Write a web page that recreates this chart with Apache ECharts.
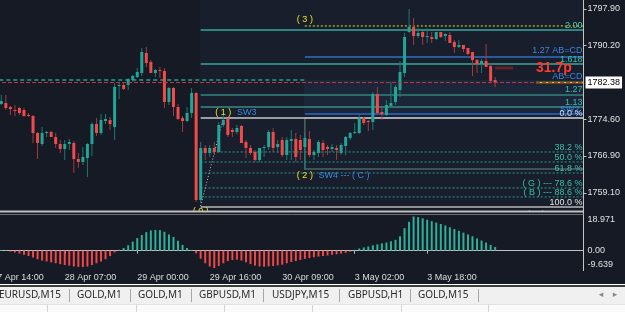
<!DOCTYPE html>
<html><head><meta charset="utf-8">
<script src="https://cdn.jsdelivr.net/npm/echarts@6/dist/echarts.min.js"></script>
<style>html,body{margin:0;padding:0;background:#151a25;overflow:hidden}#c{width:625px;height:312px}</style>
</head><body><div id="c"></div><script>
// ---------- data ----------
const barCount = 131;
const timeLabelBars = [0,16,32,48,64,80,96];
const timeLabels = ['27 Apr 14:00','28 Apr 07:00','29 Apr 00:00','29 Apr 16:00','30 Apr 09:00','3 May 02:00','3 May 18:00'];
const priceTicks = [1797.90,1790.20,1774.60,1766.90,1759.10];
const lastPrice = 1782.38;
const oscTicks = [18.971,0,-9.639];

const opens = [1777.87,1778.29,1777.87,1778.08,1777.24,1776.60,1777.02,1776.60,1775.55,1775.34,
1771.75,1769.43,1771.75,1771.96,1770.91,1769.43,1768.38,1769.43,1769.64,1766.27,
1765.64,1766.48,1769.43,1773.65,1771.75,1774.28,1774.49,1773.02,1781.66,1781.88,
1781.88,1782.93,1783.56,1784.41,1788.62,1786.73,1784.41,1785.04,1784.83,1778.29,
1781.24,1777.24,1774.92,1774.28,1775.97,1780.19,1757.62,1768.59,1767.54,1768.59,
1767.75,1773.44,1774.71,1772.39,1771.96,1773.23,1769.86,1768.59,1767.75,1766.06,
1768.59,1768.80,1771.96,1768.80,1770.28,1767.11,1770.07,1770.49,1770.28,1768.80,
1770.49,1767.11,1767.54,1769.64,1768.80,1768.38,1768.59,1767.54,1769.01,1770.70,
1771.75,1771.75,1774.92,1774.28,1774.07,1779.98,1776.18,1775.55,1777.45,1778.29,
1780.82,1784.41,1793.05,1794.11,1792.21,1793.05,1792.00,1792.00,1791.58,1793.05,
1792.21,1792.42,1790.94,1789.89,1790.31,1789.68,1788.83,1787.15,1786.30,1786.94,
1785.88,1782.93];
const closes = [1778.29,1777.87,1778.50,1777.02,1776.81,1776.50,1775.97,1775.34,1775.34,1771.75,
1769.64,1771.75,1771.96,1770.91,1769.43,1768.38,1769.43,1769.86,1766.27,1765.64,
1766.69,1769.43,1773.65,1771.75,1774.49,1774.71,1773.65,1781.45,1781.88,1781.03,
1783.14,1783.77,1784.62,1788.83,1786.51,1784.41,1785.04,1784.83,1778.29,1781.24,
1777.24,1774.71,1774.28,1775.97,1780.19,1757.62,1768.59,1767.54,1768.59,1767.75,
1773.44,1774.49,1771.33,1771.96,1772.81,1769.64,1768.59,1767.54,1766.06,1768.59,
1768.80,1771.96,1768.59,1769.43,1767.11,1770.28,1770.49,1766.69,1768.17,1770.70,
1767.11,1767.75,1769.86,1768.17,1768.38,1768.80,1768.17,1769.22,1770.91,1771.75,
1771.96,1774.92,1773.86,1774.07,1779.98,1775.97,1775.76,1777.66,1778.08,1781.45,
1784.62,1792.00,1794.11,1792.21,1792.84,1792.00,1792.21,1791.58,1793.05,1792.00,
1792.63,1790.73,1789.89,1790.31,1789.47,1788.41,1787.15,1786.30,1786.94,1785.67,
1782.72,1782.38];
const lows = [1777.02,1777.45,1777.66,1776.60,1775.55,1775.34,1775.55,1775.13,1775.13,1769.64,
1766.27,1769.01,1770.91,1770.91,1768.59,1767.54,1766.06,1768.17,1763.32,1764.37,
1765.00,1762.47,1766.90,1771.12,1771.33,1773.65,1772.39,1770.28,1778.92,1780.82,
1780.82,1782.51,1783.35,1783.77,1785.67,1784.41,1783.56,1783.35,1777.02,1777.66,
1775.34,1774.49,1771.96,1774.07,1774.92,1757.20,1756.99,1766.06,1766.69,1767.11,
1767.54,1773.02,1770.91,1770.91,1771.54,1769.64,1766.48,1767.11,1765.64,1765.64,
1766.69,1768.17,1767.75,1767.54,1766.69,1766.06,1766.06,1765.64,1766.06,1763.95,
1766.69,1766.06,1766.69,1766.69,1767.11,1767.75,1766.06,1767.11,1767.11,1770.28,
1771.54,1771.54,1773.44,1772.17,1772.39,1775.55,1774.49,1775.34,1777.24,1777.66,
1779.34,1783.56,1792.84,1790.31,1791.79,1790.31,1790.73,1790.73,1791.36,1791.79,
1791.15,1790.73,1788.62,1789.68,1788.83,1788.20,1783.77,1784.41,1784.41,1785.67,
1782.51,1781.45];
const highs = [1779.13,1778.92,1779.77,1779.77,1777.45,1777.66,1777.24,1777.02,1775.97,1775.55,
1771.96,1773.02,1772.17,1772.17,1771.75,1770.28,1770.28,1770.49,1770.07,1767.54,
1768.80,1769.64,1774.07,1774.92,1775.76,1775.76,1775.13,1782.30,1782.30,1782.30,
1783.35,1783.98,1785.46,1789.68,1789.89,1787.15,1785.25,1785.67,1785.46,1781.45,
1781.45,1777.87,1775.34,1777.24,1781.24,1780.40,1769.86,1769.22,1769.22,1769.86,
1774.07,1775.55,1774.92,1772.81,1773.44,1773.44,1770.28,1769.22,1768.17,1768.59,
1769.22,1772.39,1772.81,1770.28,1770.91,1770.91,1772.39,1771.75,1771.33,1771.75,
1772.17,1768.17,1770.28,1770.28,1769.22,1769.43,1769.22,1769.64,1771.12,1771.96,
1773.86,1775.55,1775.13,1774.49,1780.40,1781.45,1777.02,1778.71,1782.51,1781.88,
1786.94,1792.84,1797.90,1796.00,1793.90,1793.26,1793.90,1793.05,1793.05,1793.05,
1792.84,1793.05,1791.36,1791.36,1790.31,1789.68,1788.83,1787.36,1787.36,1790.52,
1786.51,1783.56];
const oscValues = [0.8,0.5,0.4,0.2,-0.5,-1.0,-1.6,-2.3,-3.0,-3.8,
-4.8,-5.5,-6.0,-6.5,-7.0,-7.5,-8.0,-8.3,-8.8,-9.0,
-9.1,-8.8,-8.0,-7.0,-6.0,-4.8,-3.0,-1.0,0.5,1.5,
3.0,5.0,7.0,8.7,10.3,11.2,11.5,11.4,10.5,9.0,
7.6,5.5,3.2,1.5,0.4,-1.5,-4.5,-7.0,-8.8,-9.639,
-8.5,-7.0,-5.8,-5.2,-5.0,-5.5,-6.5,-7.5,-8.3,-8.8,
-8.9,-8.7,-8.5,-8.2,-7.8,-7.0,-6.3,-5.8,-5.2,-4.6,
-4.1,-3.7,-3.3,-3.0,-2.7,-2.3,-2.0,-1.6,-1.2,-0.6,
0.5,1.2,1.8,2.3,3.0,3.5,4.0,4.5,5.2,6.0,
8.0,12.5,16.0,18.971,18.6,18.0,17.2,16.4,15.6,14.8,
14.0,13.0,12.0,11.0,10.0,9.0,8.0,6.8,5.6,4.5,3.2,2.0];

// chart objects (anchored at bar index + price)
const levelKeys   = ['ext200y','ext200','abcd127','ext1618','prevLevel','short317','ext127','ext113','sw2','fib0','fib382','fib500','fib618','fib786','fib886','fib100','askLine'];
const levelPrices = [1794.32,1793.47,1787.78,1786.30,1782.93,1785.46,1779.77,1777.24,1775.76,1774.92,1767.75,1765.64,1763.32,1760.16,1758.26,1756.15,1782.38];
const levelStartBars = [69,46,69,46,0,111,46,46,69,46,46,46,46,46,46,46,120];
const levelEndBars   = [null,null,null,null,69,115,null,null,null,null,null,null,null,null,null,null,null];
const levelLabels = ['','2.00','1.27 AB=CD','1.618','','','1.27','1.13','SW2','0.0 %','38.2 %','50.0 %','61.8 %','( G ) --- 78.6 %','( B ) --- 88.6 %','100.0 %','AB=CD'];

const rectKeys = ['fibZone','swZone','boxC'];
const rectStartBars = [46,69,69];
const rectTopPrices = [1799.80,1782.93,1774.92];
const rectBottomPrices = [1756.15,1775.76,1764.16];

const noteKeys = ['w3','w1','sw3','w2','sw4','w0','pips','cBottom','cVal'];
const noteTexts = ['( 3 )','( 1 )','SW3','( 2 )','SW4 --- ( C )','( 0 )','31.7p','( C )','1.13'];
const noteBars = [69,51,54,69,72,46,120,120,130];
const notePrices = [1795.58,1775.97,1775.97,1762.69,1762.69,1755.20,1785.46,1754.46,1754.46];

const tabLabels = ['EURUSD,M15','GOLD,M1','GOLD,M1','GBPUSD,M1','USDJPY,M15','GBPUSD,H1','GOLD,M15'];

// ---------- styles / layout ----------
const BG = '#151a25';
const FONT = 'Liberation Sans';
const UP = '#22a596', DN = '#ef4b4b', UPW = '#1b7a72', DNW = '#a53a40';
const TEAL = '#3cbfa8', BLUE = '#3a86e0', YEL = '#ece020';
const levelStyle = {
  ext200y:{stroke:YEL,w:1,dash:[2,2]},
  ext200:{stroke:'#35a99c',w:1.5,lc:'#58c8a8'},
  abcd127:{stroke:'#2f70c0',w:1.5,lc:BLUE,dy:6.5},
  ext1618:{stroke:'#35a99c',w:1.5,lc:TEAL,dy:4},
  prevLevel:{stroke:'#1d7f7a',w:2,dash:[4,3]},
  short317:{stroke:'#6a2026',w:3},
  ext127:{stroke:'#2c6b6c',w:2,lc:TEAL,dy:5.5},
  ext113:{stroke:'#3a8a88',w:1.5,lc:TEAL},
  sw2:{stroke:'#2a68cc',w:1.5,lc:BLUE,off:3,dy:4},
  fib0:{stroke:'#c8c8c8',w:1.5,lc:'#c8dcf0'},
  fib382:{stroke:'#2a9c8e',w:1,dash:[2,2],lc:TEAL},
  fib500:{stroke:'#2a9c8e',w:1,dash:[2,2],lc:TEAL},
  fib618:{stroke:'#2a9c8e',w:1,dash:[2,2],lc:TEAL},
  fib786:{stroke:'#2a9c8e',w:1,dash:[2,2],lc:TEAL},
  fib886:{stroke:'#2a9c8e',w:1,dash:[2,2],lc:TEAL},
  fib100:{stroke:'#b8b8b8',w:1.5,lc:'#e4e4e4'},
  askLine:{stroke:'#e0d000',w:1.5,lc:BLUE,dy:6}
};
const rectStyle = {
  fibZone:{fill:'#181e2c'},
  swZone:{fill:'#1c2639'},
  boxC:{fill:null,stroke:'#4e6468',w:1.5}
};
const noteStyle = {
  w3:{fill:YEL,align:'center'}, w1:{fill:YEL,align:'center'}, sw3:{fill:BLUE,align:'left'},
  w2:{fill:YEL,align:'center'}, sw4:{fill:BLUE,align:'left'}, w0:{fill:YEL,align:'center'},
  pips:{fill:'#ff3a30',align:'left',font:'bold 14px '+FONT},
  cBottom:{fill:TEAL,align:'center'}, cVal:{fill:TEAL,align:'right'}
};
const tabTextX = [-1,77,138,199,272,348,418];
const tabSepX = [69,130,191,263,339,410,478];
const lowSepX = [47,136,224,312,401,488];

const cats = Array.from({length:barCount},(_,i)=>String(i));
const showLabel = idx => timeLabelBars.indexOf(idx) >= 0;

const chart = echarts.init(document.getElementById('c'),null,{renderer:'canvas'});

const graphics = [
  {type:'line',shape:{x1:583.5,y1:0,x2:583.5,y2:271},style:{stroke:'#c4c4c4',lineWidth:1},z:50},
  {type:'line',shape:{x1:0,y1:211.5,x2:583.5,y2:211.5},style:{stroke:'#c0c0c0',lineWidth:2},z:50},
  {type:'line',shape:{x1:0,y1:214.5,x2:583.5,y2:214.5},style:{stroke:'#6e6e6e',lineWidth:1},z:50},
  {type:'rect',shape:{x:0,y:284,width:625,height:28},style:{fill:'#f0f0f0'},z:50},
  {type:'line',shape:{x1:0,y1:284.5,x2:625,y2:284.5},style:{stroke:'#ffffff',lineWidth:1},z:51},
  {type:'line',shape:{x1:0,y1:286,x2:625,y2:286},style:{stroke:'#000000',lineWidth:1.5},z:51},
  {type:'rect',shape:{x:0,y:304,width:625,height:8},style:{fill:'#fafafa'},z:51},
  {type:'line',shape:{x1:0,y1:304.5,x2:625,y2:304.5},style:{stroke:'#e2e2e2',lineWidth:1},z:52},
  {type:'text',x:601,y:295,style:{text:'◂',fill:'#8a8a8a',font:'9px DejaVu Sans',align:'center',verticalAlign:'middle'},z:52},
  {type:'text',x:615,y:295,style:{text:'▸',fill:'#8a8a8a',font:'9px DejaVu Sans',align:'center',verticalAlign:'middle'},z:52}
];
tabLabels.forEach((t,i)=>{
  graphics.push({type:'text',x:tabTextX[i],y:295.5,style:{text:t,fill:'#2a2a2a',font:'10px Noto Sans',align:'left',verticalAlign:'middle'},z:52});
});
tabSepX.forEach(x=>graphics.push({type:'line',shape:{x1:x+0.5,y1:289,x2:x+0.5,y2:302},style:{stroke:'#a8a8a8',lineWidth:1},z:52}));
lowSepX.forEach(x=>graphics.push({type:'line',shape:{x1:x+0.5,y1:305,x2:x+0.5,y2:312},style:{stroke:'#d4d4d4',lineWidth:1},z:52}));

const option = {
  animation:false,
  backgroundColor:BG,
  grid:[
    {left:-10,top:0,width:593.5,height:211,containLabel:false,outerBoundsMode:'none'},
    {left:-10,top:216.5,width:593.5,height:51.5,containLabel:false,outerBoundsMode:'none'}
  ],
  xAxis:[
    {type:'category',gridIndex:0,data:cats,boundaryGap:true,show:false},
    {type:'category',gridIndex:1,data:cats,boundaryGap:true,offset:2.5,
     axisLine:{show:true,lineStyle:{color:'#c0c0c0',width:1}},
     axisTick:{show:true,alignWithLabel:true,interval:showLabel,length:3,lineStyle:{color:'#c0c0c0'}},
     axisLabel:{interval:showLabel,align:'left',margin:3,color:'#dcdcdc',fontSize:9,fontFamily:FONT,hideOverlap:false,
       formatter:(v,idx)=>timeLabels[timeLabelBars.indexOf(idx)] || ''},
     splitLine:{show:false}}
  ],
  yAxis:[
    {type:'value',gridIndex:0,position:'right',min:1755.30,max:1799.80,
     axisLine:{show:false},splitLine:{show:false},
     axisTick:{show:true,customValues:priceTicks,length:3,lineStyle:{color:'#c4c4c4'}},
     axisLabel:{customValues:priceTicks,margin:4,color:'#e0e0e0',fontSize:9,fontFamily:FONT,formatter:v=>v.toFixed(2)}},
    {type:'value',gridIndex:1,position:'right',min:-9.639,max:18.971,
     axisLine:{show:false},splitLine:{show:false},
     axisTick:{show:false},
     axisLabel:{customValues:oscTicks,margin:4,color:'#e0e0e0',fontSize:9,fontFamily:FONT,
       formatter:v=> v>0 ? '{t|'+v.toFixed(3)+'}' : (v<0 ? '{b|'+v.toFixed(3)+'}' : '0.00'),
       rich:{t:{padding:[7,0,0,0],fontSize:9,fontFamily:FONT,color:'#e0e0e0'},
             b:{padding:[0,0,6,0],fontSize:9,fontFamily:FONT,color:'#e0e0e0'}}}}
  ],
  graphic:graphics,
  series:[
    { // background zones
      type:'custom',xAxisIndex:0,yAxisIndex:0,clip:true,z:1,silent:true,
      data:rectKeys.map((k,i)=>[rectStartBars[i],rectTopPrices[i],rectBottomPrices[i],i]),
      encode:{x:0,y:[1,2]},
      renderItem:(params,api)=>{
        const i=api.value(3), st=rectStyle[rectKeys[i]], cs=params.coordSys;
        const p1=api.coord([api.value(0),api.value(1)]), p2=api.coord([api.value(0),api.value(2)]);
        const x1=p1[0]+(st.fill?-1:0), xr=cs.x+cs.width;
        return {type:'rect',shape:{x:x1,y:p1[1],width:xr-x1+ (st.fill?0:2),height:p2[1]-p1[1]},
          style: st.fill ? {fill:st.fill} : {fill:null,stroke:st.stroke,lineWidth:st.w}};
      }
    },
    { // level lines
      type:'custom',xAxisIndex:0,yAxisIndex:0,clip:true,z:2,silent:true,
      data:levelKeys.map((k,i)=>[levelStartBars[i],levelPrices[i],i]),
      encode:{x:0,y:1},
      renderItem:(params,api)=>{
        const i=api.value(2), st=levelStyle[levelKeys[i]], cs=params.coordSys;
        const p=api.coord([api.value(0),api.value(1)]);
        const xEnd = levelEndBars[i]==null ? cs.x+cs.width : api.coord([levelEndBars[i],api.value(1)])[0];
        const kids=[{type:'line',shape:{x1:p[0],y1:p[1],x2:xEnd,y2:p[1]},
          style:{stroke:st.stroke,lineWidth:st.w,lineDash:st.dash||null}}];
        if(levelLabels[i]) kids.push({type:'text',x:cs.x+cs.width-1-(st.off||0),y:p[1]-(st.dy||4.5),z2:5,
          style:{text:levelLabels[i],fill:st.lc||TEAL,font:'9px '+FONT,align:'right',verticalAlign:'middle'}});
        return {type:'group',children:kids};
      }
    },
    { // diagonal wave line (0)->(1)
      type:'line',xAxisIndex:0,yAxisIndex:0,z:3,silent:true,symbol:'none',
      data:[[46,1756.36],[51,1774.92]],
      lineStyle:{color:'#c8c8c8',width:1,type:[1,2]}
    },
    { // candles
      type:'custom',name:'GOLD,H1',xAxisIndex:0,yAxisIndex:0,clip:true,z:4,
      data:opens.map((o,i)=>[i,o,closes[i],lows[i],highs[i]]),
      encode:{x:0,y:[1,2,3,4]},
      renderItem:(params,api)=>{
        const i=api.value(0),o=api.value(1),c=api.value(2),l=api.value(3),h=api.value(4);
        const po=api.coord([i,o]),pc=api.coord([i,c]),pl=api.coord([i,l]),ph=api.coord([i,h]);
        const up=c>=o, x=po[0];
        const top=Math.min(po[1],pc[1]), ht=Math.max(1,Math.abs(po[1]-pc[1]));
        return {type:'group',children:[
          {type:'line',shape:{x1:x,y1:ph[1],x2:x,y2:pl[1]},style:{stroke:up?UPW:DNW,lineWidth:1}},
          {type:'rect',shape:{x:x-1.5,y:top,width:3,height:ht},style:{fill:up?UP:DN}}
        ]};
      },
      markLine:{symbol:'none',silent:true,animation:false,
        data:[{yAxis:lastPrice}],
        lineStyle:{color:'#c8343a',type:[4,2],width:1},
        label:{position:'end',distance:2,formatter:()=>lastPrice.toFixed(2),backgroundColor:'#ffffff',
          color:'#000000',fontSize:9,fontFamily:FONT,padding:[2,2,1,2]}}
    },
    { // text notes
      type:'custom',xAxisIndex:0,yAxisIndex:0,clip:true,z:6,silent:true,
      data:noteKeys.map((k,i)=>[noteBars[i],notePrices[i],i]),
      encode:{x:0,y:1},
      renderItem:(params,api)=>{
        const i=api.value(2), st=noteStyle[noteKeys[i]], cs=params.coordSys;
        const p=api.coord([api.value(0),api.value(1)]);
        const x = st.align==='right' ? cs.x+cs.width-1 : p[0];
        return {type:'text',x:x,y:p[1],style:{text:noteTexts[i],fill:st.fill,font:st.font||('9px '+FONT),align:st.align,verticalAlign:'middle'}};
      }
    },
    { // oscillator histogram
      type:'bar',xAxisIndex:1,yAxisIndex:1,data:oscValues,barWidth:2,silent:true,
      itemStyle:{color:p=>p.value>=0?'#2fb09b':'#ee4848'}
    }
  ]
};
chart.setOption(option);
</script></body></html>
